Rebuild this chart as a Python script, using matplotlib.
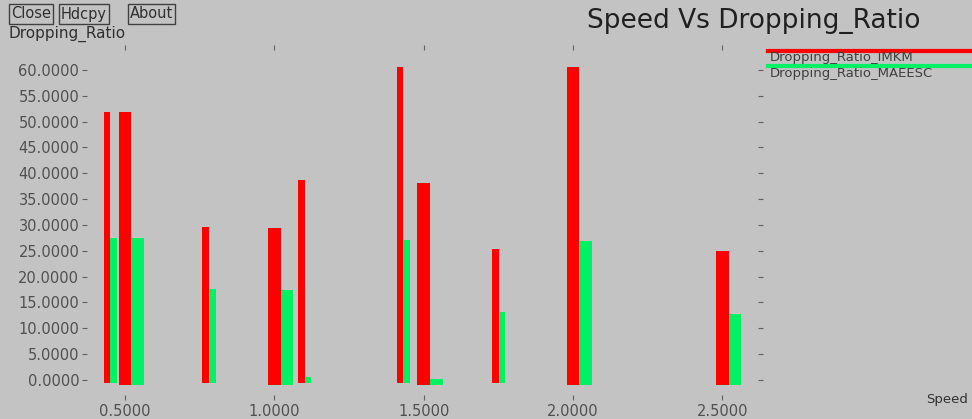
import numpy as np
import matplotlib
matplotlib.use('Agg')
import matplotlib.pyplot as plt

# speeds where each bar group sits, and the two series
speed = [0.44, 0.50, 0.77, 1.00, 1.09, 1.42, 1.50, 1.74, 2.00, 2.50]
ratio_imkm = [51.9, 51.8, 29.6, 29.4, 38.7, 60.6, 38.2, 25.3, 60.5, 25.0]
ratio_maeesc = [27.4, 27.4, 17.6, 17.4, 0.5, 27.1, 0.2, 13.1, 26.8, 12.8]
xticks = [0.5, 1.0, 1.5, 2.0, 2.5]
yticks = [0, 5, 10, 15, 20, 25, 30, 35, 40, 45, 50, 55, 60]

bg = '#c3c3c3'
red = '#ff0000'
green = '#00f264'
txt = '#505050'

plt.rcParams['font.family'] = ['DejaVu Sans']

fig = plt.figure(figsize=(9.72, 4.19), dpi=100, facecolor=bg)
ax = fig.add_axes([87 / 972, 24 / 419, 671 / 972, 345 / 419], facecolor=bg)

x = np.array(speed)
# points on the half-units are drawn as wide bars, the others narrow
wide = np.isclose((x * 2) % 1, 0)
w = np.where(wide, 0.042, 0.022)
base = np.where(wide, -1.0, -0.5)

ax.bar(x, np.array(ratio_imkm) - base, width=w, bottom=base, color=red,
       edgecolor='none', zorder=2)
ax.bar(x + w, np.array(ratio_maeesc) - base, width=w, bottom=base, color=green,
       edgecolor='none', zorder=2)

ax.set_xlim(0.3728, 2.619)
ax.set_ylim(-2.9, 63.83)

for s in ax.spines.values():
    s.set_visible(False)

ax.set_xticks(xticks)
ax.set_xticklabels([f'{v:.4f}' for v in xticks])
ax.set_yticks(yticks)
ax.set_yticklabels([f'{v:.4f}' for v in yticks])
ax.tick_params(axis='both', direction='out', length=3.5, width=0.8,
               color='#606060', labelcolor=txt, labelsize=10.5)
ax.tick_params(axis='x', top=True, bottom=True, pad=3)
ax.tick_params(axis='y', left=True, right=True, pad=2)
ax.get_yticklines()[0].set_color('white')
ax.get_yticklines()[1].set_color('white')

# window buttons and labels
btn = dict(boxstyle='square,pad=0.15', facecolor=bg, edgecolor='#404040', linewidth=1)
fig.text(11 / 972, 1 - 14 / 419, 'Close', fontsize=10.5, color='#303030', va='center', bbox=btn)
fig.text(61 / 972, 1 - 14 / 419, 'Hdcpy', fontsize=10.5, color='#303030', va='center', bbox=btn)
fig.text(130 / 972, 1 - 14 / 419, 'About', fontsize=10.5, color='#303030', va='center', bbox=btn)
fig.text(8 / 972, 1 - 34 / 419, 'Dropping_Ratio', fontsize=11, color='#303030', va='center')

fig.text(587 / 972, 1 - 21 / 419, 'Speed Vs Dropping_Ratio', fontsize=19,
         color='#202020', va='center')
fig.text(926 / 972, 1 - 399 / 419, 'Speed', fontsize=9.5, color='#303030', va='center')

# legend in the xgraph style: a coloured bar above each name
fig.add_artist(plt.Line2D([768 / 972, 1], [1 - 51 / 419] * 2, color=red, lw=3,
                          transform=fig.transFigure))
fig.add_artist(plt.Line2D([768 / 972, 1], [1 - 66 / 419] * 2, color=green, lw=3,
                          transform=fig.transFigure))
fig.text(770 / 972, 1 - 58 / 419, 'Dropping_Ratio_IMKM', fontsize=9.5, color='#404040', va='center')
fig.text(770 / 972, 1 - 73 / 419, 'Dropping_Ratio_MAEESC', fontsize=9.5, color='#404040', va='center')

fig.savefig('out.png', dpi=100, facecolor=bg)
